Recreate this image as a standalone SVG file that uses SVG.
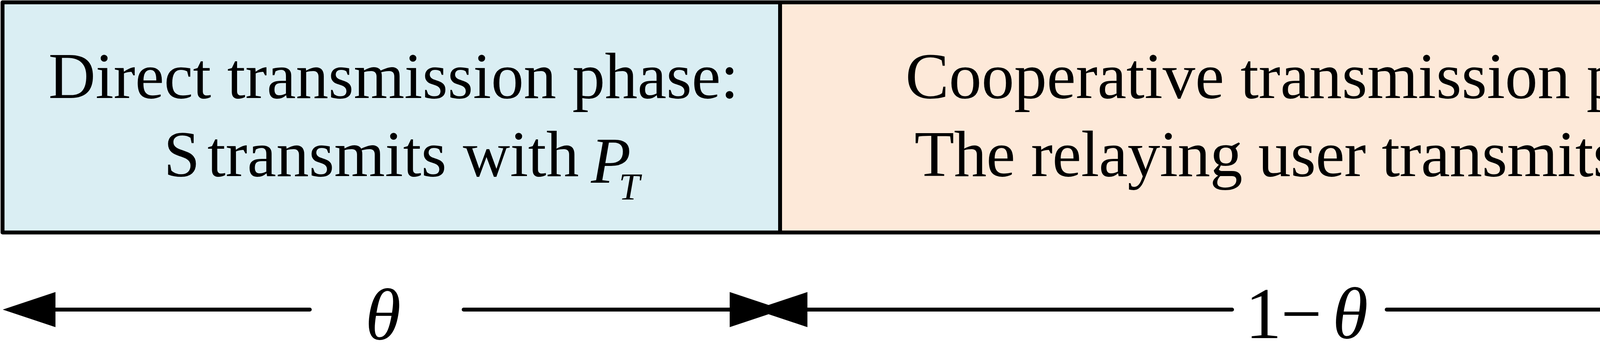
<svg xmlns="http://www.w3.org/2000/svg" width="4807" height="917" viewBox="0 0 4807 917">
  <style>
    .t { font-family: "Liberation Serif", "Times New Roman", serif; fill: #000; }
    .body { font-size: 167px; }
    .it { font-style: italic; }
    .sub { font-size: 97px; font-style: italic; }
    .lab { font-size: 186px; }
    .seg { stroke: #000; stroke-width: 10; stroke-linecap: round; fill: none; }
  </style>
  <defs>
    <marker id="head" markerUnits="userSpaceOnUse" markerWidth="135" markerHeight="90" refX="0" refY="45" orient="auto-start-reverse" overflow="visible">
      <path d="M0,0 L135,45 L0,90 Z" fill="#000"/>
    </marker>
  </defs>
  <rect x="0" y="0" width="4807" height="917" fill="#ffffff"/>

  <g id="direct-phase">
    <rect x="6.5" y="6" width="1990.5" height="589.5" fill="#DAEEF3"/>
    <text class="t body" x="124" y="251" textLength="1767">Direct transmission phase:</text>
    <text class="t body" y="451"><tspan x="419">S</tspan><tspan x="531">transmits with</tspan></text>
    <text class="t body it" x="1513" y="468">P</text>
    <text class="t sub" x="1584" y="511">T</text>
  </g>

  <g id="cooperative-phase">
    <rect x="1997" y="6" width="3803.5" height="589.5" fill="#FDE9D9"/>
    <text class="t body" x="2318" y="251" textLength="2170">Cooperative transmission phase:</text>
    <text class="t body" x="2341" y="451" textLength="2137">The relaying user transmits with</text>
    <text class="t body it" x="4563" y="468">P</text>
    <text class="t sub" x="4641" y="511">R</text>
  </g>

  <g id="frame">
    <rect x="6.5" y="6" width="4794" height="589.5" fill="none" stroke="#000" stroke-width="10" stroke-linejoin="round"/>
    <line x1="1997" y1="6" x2="1997" y2="595.5" stroke="#000" stroke-width="10"/>
  </g>

  <g id="connectors">
    <path class="seg" d="M142,793 L793,793" marker-start="url(#head)"/>
    <path class="seg" d="M1187,793 L1868,793" marker-end="url(#head)"/>
    <path class="seg" d="M2067,793 L3154,793" marker-start="url(#head)"/>
    <path class="seg" d="M3550,793 L4637,793" marker-end="url(#head)"/>
    <text id="label-theta" class="t lab it" x="935" y="869">θ</text>
    <text id="label-one-minus-theta" class="t lab" y="866"><tspan x="3188">1</tspan><tspan x="3279">−</tspan><tspan class="it" x="3411">θ</tspan></text>
  </g>
</svg>
